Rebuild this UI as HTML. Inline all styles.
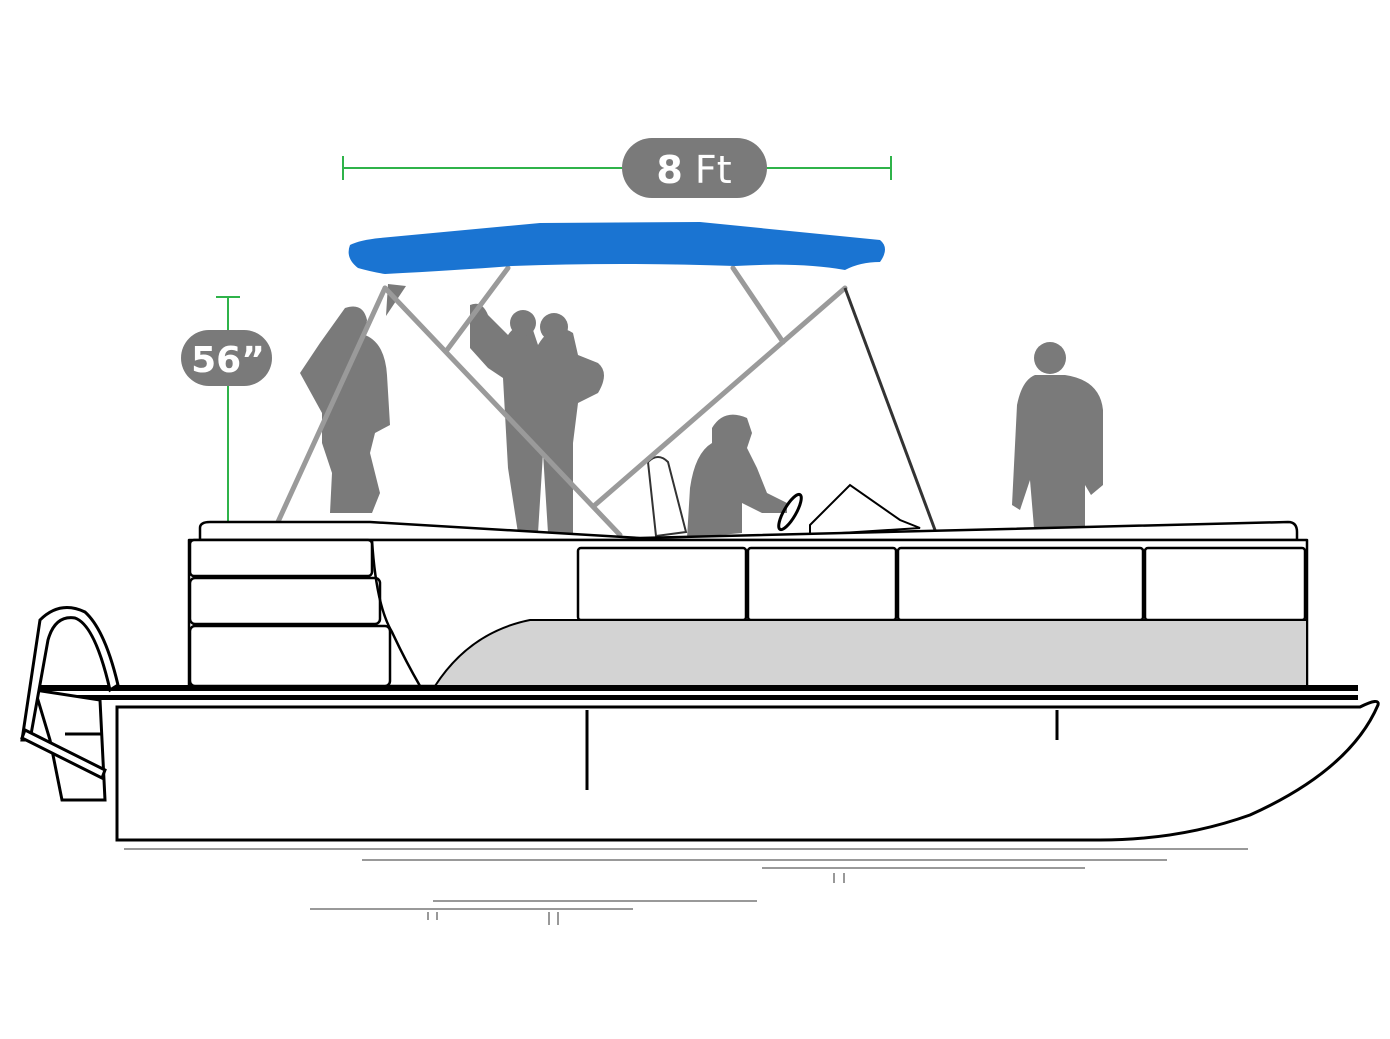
<!DOCTYPE html>
<html><head><meta charset="utf-8"><style>html,body{margin:0;padding:0;background:#fff}svg{display:block}</style></head>
<body>
<svg width="1390" height="1039" viewBox="0 0 1390 1039" xmlns="http://www.w3.org/2000/svg">
<rect width="1390" height="1039" fill="#fff"/>
<g stroke="#2fb34a" stroke-width="2" fill="none">
<line x1="343" y1="168" x2="891" y2="168"/>
<line x1="343" y1="156" x2="343" y2="180"/>
<line x1="891" y1="156" x2="891" y2="180"/>
<line x1="228" y1="297" x2="228" y2="540"/>
<line x1="216" y1="297" x2="240" y2="297"/>
</g>
<rect x="622" y="138" width="145" height="60" rx="30" fill="#7a7a7a"/>
<text x="694" y="183" text-anchor="middle" font-family="DejaVu Sans, sans-serif" font-size="38" fill="#fff"><tspan font-weight="bold">8</tspan> Ft</text>
<rect x="181" y="330" width="91" height="56" rx="28" fill="#7a7a7a"/>
<text x="228" y="372" text-anchor="middle" font-family="DejaVu Sans, sans-serif" font-size="36" font-weight="bold" fill="#fff">56”</text>

<g fill="#7a7a7a">
<path d="M345 308 q18-6 22 12 l-2 15 q20 8 22 40 l3 50 l-15 8 l-5 20 l10 40 l-8 20 l-22 0 l-20 0 l2-40 l-10-30 l0-30 l-22-40 l20-30 z"/>
<path d="M388 284 l18 2 l-20 30 z"/>
<path d="M470 305 q12-5 18 10 l20 20 q10-15 25-5 l5 15 q15-25 35-12 l5 22 l20 8 q12 10 0 30 l-20 10 l-5 40 l0 90 l-25 0 l-5-80 l-5 80 l-20 0 l-10-65 l-5-90 l-15-10 l-18-20 z"/>
<circle cx="523" cy="323" r="13"/><circle cx="554" cy="327" r="14"/>
<path d="M712 428 q12-20 35-10 l5 15 l-5 15 l10 20 l10 25 l20 10 l0 10 l-25 0 l-20-10 l0 30 l-55 5 l3-50 q5-35 22-45 z"/>
<circle cx="1050" cy="358" r="16"/>
<path d="M1035 375 l30 0 q35 5 38 35 l0 75 l-12 10 l-6-10 l0 55 l-50 0 l-5-60 l-10 30 l-8-5 l5-100 q5-25 18-30 z"/>
</g>
<!-- seat -->
<path d="M648 462 q10-10 20 0 l18 70 l-30 4 z" fill="#fff" stroke="#333" stroke-width="2"/>
<!-- steering wheel & windshield -->
<ellipse cx="790" cy="512" rx="6" ry="20" transform="rotate(30 790 512)" fill="none" stroke="#000" stroke-width="3"/>
<path d="M810 525 L850 485 L900 520 L920 528 L810 535 Z" fill="#fff" stroke="#000" stroke-width="2"/>
<g stroke="#9a9a9a" stroke-width="5" stroke-linecap="round" fill="none">
<line x1="385" y1="288" x2="272" y2="535"/>
<line x1="385" y1="288" x2="620" y2="535"/>
<line x1="508" y1="268" x2="447" y2="350"/>
<line x1="845" y1="288" x2="595" y2="505"/>
<line x1="733" y1="268" x2="783" y2="342"/>
</g>
<path d="M845 288 L935 530" stroke="#333" stroke-width="3"/>
<path d="M350 245 Q360 240 380 238 L540 223 L700 222 L880 240 Q890 248 880 262 Q860 262 845 270 Q800 262 735 266 Q620 262 512 266 Q460 270 385 274 Q372 272 358 268 Q345 258 350 245 Z" fill="#1a74d2"/>
<g stroke="#000" stroke-width="2.5" fill="#fff" stroke-linejoin="round">
<path d="M200 540 L200 528 Q200 522 210 522 L370 522 L640 538 L1288 522 Q1297 522 1297 532 L1297 540 Z"/>
<path d="M189 540 L1307 540 L1307 686 L189 686 Z"/>
<rect x="190" y="540" width="182" height="36" rx="4"/>
<rect x="190" y="578" width="190" height="46" rx="5"/>
<rect x="190" y="626" width="200" height="60" rx="5"/>
<path d="M372 540 Q376 605 392 632 Q405 660 420 686" fill="none"/>
<rect x="578" y="548" width="168" height="72" rx="3"/>
<rect x="748" y="548" width="148" height="72" rx="3"/>
<rect x="898" y="548" width="245" height="72" rx="3"/>
<rect x="1145" y="548" width="160" height="72" rx="3"/>
</g>
<path d="M435 686 Q470 632 530 620 L1307 620 L1307 686 Z" fill="#d3d3d3" stroke="#000" stroke-width="2"/>
<rect x="30" y="685" width="1328" height="6" fill="#000"/>
<rect x="30" y="695" width="1328" height="5" fill="#000"/>
<rect x="40" y="691" width="1318" height="4" fill="#fff"/>
<path d="M117 707 L1360 707 Q1380 697 1378 705 Q1350 770 1250 815 Q1180 840 1100 840 L117 840 Z" fill="#fff" stroke="#000" stroke-width="3"/>
<line x1="587" y1="710" x2="587" y2="790" stroke="#000" stroke-width="3"/>
<line x1="1057" y1="710" x2="1057" y2="740" stroke="#000" stroke-width="3"/>
<g stroke="#000" stroke-width="3" fill="#fff">
<path d="M35 690 L100 700 L105 800 L62 800 L50 740 Z"/>
<path d="M22 740 L40 620 Q60 600 85 612 Q105 630 118 685 L110 690 Q95 625 75 618 Q55 615 48 640 L30 740 Z"/>
<path d="M25 730 L105 770 L102 778 L22 738 Z"/>
<line x1="65" y1="734" x2="102" y2="734"/>
</g>
<g stroke="#999" stroke-width="2">
<line x1="124" y1="849" x2="1248" y2="849"/>
<line x1="362" y1="860" x2="1167" y2="860"/>
<line x1="762" y1="868" x2="1085" y2="868"/>
<line x1="433" y1="901" x2="757" y2="901"/>
<line x1="310" y1="909" x2="633" y2="909"/>
<line x1="834" y1="873" x2="834" y2="883"/><line x1="844" y1="873" x2="844" y2="883"/>
<line x1="428" y1="912" x2="428" y2="920"/><line x1="437" y1="912" x2="437" y2="920"/>
<line x1="549" y1="912" x2="549" y2="925"/><line x1="558" y1="912" x2="558" y2="925"/>
</g>
</svg>
</body></html>
